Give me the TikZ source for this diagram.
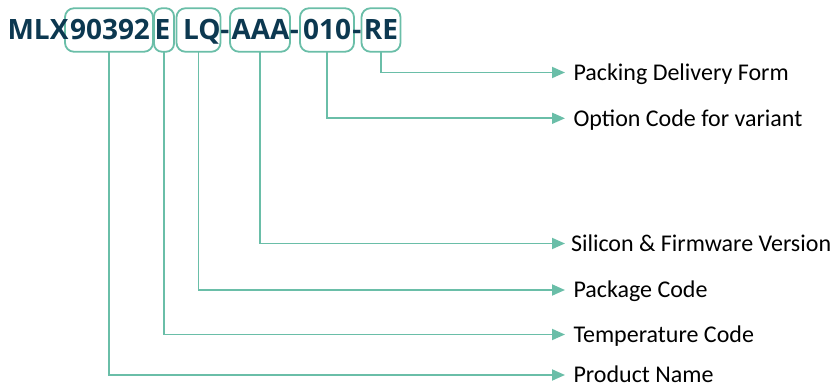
\documentclass[tikz,border=0pt]{standalone}
\usepackage{fontspec}
\usetikzlibrary{arrows.meta}
\newfontfamily\titlefont{Open Sans}
\newfontfamily\labfont{Carlito}
\definecolor{tealline}{RGB}{106,190,168}
\definecolor{navy}{RGB}{12,56,80}
\begin{document}
\begin{tikzpicture}[x=1pt,y=-1pt,
  codebox/.style={draw=tealline, line width=1.8pt, rounded corners=9pt, minimum height=43.5pt, inner sep=0pt, outer sep=0pt},
  seg/.style={anchor=base, inner sep=0pt, outer sep=0pt, text=navy, font=\titlefont\bfseries\fontsize{28}{30}\selectfont},
  conn/.style={draw=tealline, line width=1.8pt, -{Triangle[length=13pt,width=11pt]}},
  lab/.style={anchor=west, inner ysep=0pt, inner xsep=8.5pt, outer sep=0pt, text height=15.5pt, text depth=0pt, text=black, font=\labfont\fontsize{24}{26}\selectfont}]
\useasboundingbox (0,0) rectangle (839,390);
% boxes
\node[codebox, minimum width=88pt] (b1) at (109,30) {};
\node[codebox, minimum width=20pt, rounded corners=8pt] (b2) at (164,30) {};
\node[codebox, minimum width=44pt] (b3) at (198.5,30) {};
\node[codebox, minimum width=60pt] (b4) at (260,30) {};
\node[codebox, minimum width=54pt] (b5) at (327,30) {};
\node[codebox, minimum width=39pt] (b6) at (381,30) {};
% title text
\node[seg] (t0) at (38,39.3) {MLX};
\node[seg] (t1) at (110,39.3) {90392};
\node[seg] (t2) at (162.5,39.3) {E};
\node[seg] (t3) at (202,39.3) {LQ};
\node[seg] (h1) at (225,39.3) {-};
\node[seg] (t4) at (260.5,39.3) {AAA};
\node[seg] (h2) at (294.5,39.3) {-};
\node[seg] (t5) at (327,39.3) {010};
\node[seg] (h3) at (357,39.3) {-};
\node[seg] (t6) at (381,39.3) {RE};
% labels
\node[lab] (l6) at (565,72.5) {Packing Delivery Form};
\node[lab] (l5) at (565,118.3) {Option Code for variant};
\node[lab, inner xsep=6pt] (l4) at (565,243.5) {Silicon \& Firmware Version};
\node[lab] (l3) at (565,290) {Package Code};
\node[lab] (l2) at (565,334.5) {Temperature Code};
\node[lab] (l1) at (565,375) {Product Name};
% connectors
\draw[conn] (b6.south) |- (l6.west);
\draw[conn] (b5.south) |- (l5.west);
\draw[conn] (b4.south) |- (l4.west);
\draw[conn] (b3.south) |- (l3.west);
\draw[conn] (b2.south) |- (l2.west);
\draw[conn] (b1.south) |- (l1.west);
\end{tikzpicture}
\end{document}
